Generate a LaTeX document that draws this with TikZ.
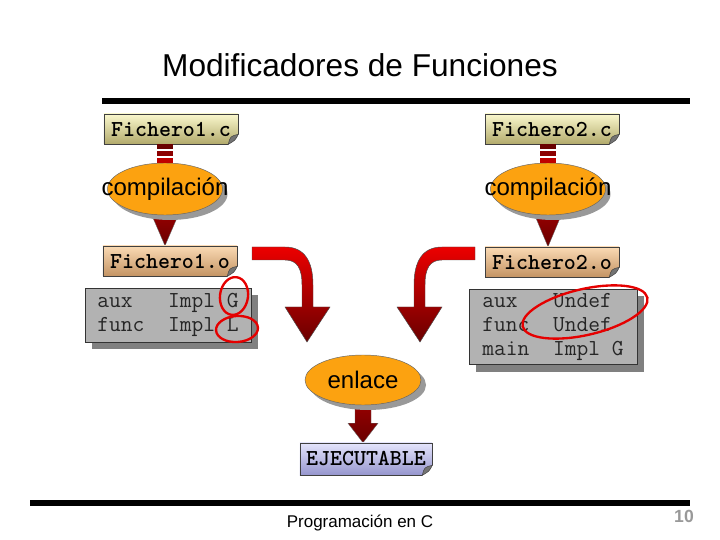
\documentclass[tikz,border=0pt]{standalone}
\usepackage{fontspec}
\setmainfont{Liberation Sans}
\usetikzlibrary{positioning,calc,shadows,shapes.geometric,backgrounds}

\definecolor{caqui1}{RGB}{250,248,205}
\definecolor{caqui2}{RGB}{178,170,108}
\definecolor{tostado1}{RGB}{250,218,180}
\definecolor{tostado2}{RGB}{196,148,100}
\definecolor{lila1}{RGB}{228,228,252}
\definecolor{lila2}{RGB}{150,150,206}
\definecolor{naranja}{RGB}{252,162,16}
\definecolor{rojo}{RGB}{236,0,0}
\definecolor{granate}{RGB}{105,0,0}

\tikzset{
  fichero/.style={draw=black!75, line width=0.5pt, minimum width=4.02cm, minimum height=0.9cm,
    inner sep=0pt, font=\fontsize{19.5}{19.5}\selectfont\ttfamily\bfseries},
  fuente/.style={fichero, top color=caqui1, bottom color=caqui2},
  objeto/.style={fichero, top color=tostado1, bottom color=tostado2},
  final/.style={fichero, top color=lila1, bottom color=lila2, minimum width=3.96cm, minimum height=0.96cm},
  proceso/.style={ellipse, draw=black!60, line width=0.4pt, fill=naranja, inner sep=0pt,
    minimum width=3.45cm, minimum height=1.56cm,
    drop shadow={shadow xshift=0.15cm, shadow yshift=-0.15cm, fill=black!40, opacity=1},
    label={[font=\fontsize{20.5}{20.5}\selectfont]center:#1}},
  simbolos/.style={draw=black!80, line width=0.5pt, fill=black!30, align=left, inner sep=0pt,
    font=\fontsize{19.5}{20.5}\selectfont\ttfamily, text=black!85,
    drop shadow={shadow xshift=0.21cm, shadow yshift=-0.21cm, fill=black!50, opacity=1}},
  marca/.style={draw=red!90!black, line width=2pt},
  flecha/.style={draw=black!70, line width=0.4pt, top color=rojo, bottom color=granate},
  punta/.style={draw=black!60, line width=0.3pt, top color=red!60!black, bottom color=granate}
}

% doblez de la esquina inferior derecha
\newcommand{\doblez}[1]{%
  \fill[white] ($(#1.south east)+(0.6,0.6)$) -- ($(#1.south east)+(-10,0.6)$) -- ($(#1.south east)+(0.6,-10)$) -- cycle;
  \filldraw[fill=black!55, draw=black!75, line width=0.4pt] ($(#1.south east)+(0,-10)$)
    .. controls ($(#1.south east)+(-8,-8)$) .. ($(#1.south east)+(-10,0)$)
    .. controls ($(#1.south east)+(-3,-4)$) .. ($(#1.south east)+(0,-10)$) -- cycle;
}

\begin{document}
\begin{tikzpicture}[x=0.03cm, y=-0.03cm]
  \useasboundingbox (0,0) rectangle (720,540);

  % cabecera
  \node (titulo) at (360,65) {\fontsize{27}{27}\selectfont Modificadores de Funciones};
  \draw[line width=4.5pt] (102,101) -- (690,101);

  % ficheros fuente
  \node[fuente] (f1c) at (171,129) {Fichero1.c};
  \node[fuente] (f2c) at (552,129) {Fichero2.c};
  \doblez{f1c}
  \doblez{f2c}

  % compilacion
  \node[proceso=compilación] (comp1) at (165,189) {};
  \node[proceso=compilación] (comp2) at (548,189) {};

  \foreach \f/\c in {f1c/comp1, f2c/comp2}{
    \foreach \i/\tono in {0/granate, 1/red!55!black, 2/red!75!black}
      \fill[\tono] ($(\f.south -| \c)+(-8,\i*7)$) rectangle ++(16,5);
  }

  % ficheros objeto
  \node[objeto] (f1o) at (170,261) {Fichero1.o};
  \node[objeto] (f2o) at (552,262) {Fichero2.o};
  \doblez{f1o}
  \doblez{f2o}

  \begin{pgfonlayer}{background}
    \foreach \c/\f in {comp1/f1o, comp2/f2o}
      \shade[punta] ($(\c.center)+(-15,22)$) -- ($(\c.center)+(15,22)$) -- (\f.north -| \c) -- cycle;
  \end{pgfonlayer}

  % tablas de simbolos
  \node[simbolos, minimum width=4.98cm, minimum height=1.62cm] (tab1) at (168,315)
    {aux\ \ \ Impl G\\func\ \ Impl L};
  \node[simbolos, minimum width=5.04cm, minimum height=2.25cm] (tab2) at (553,327)
    {aux\ \ \ Undef\ \ \\func\ \ Undef\ \ \\main\ \ Impl G};

  \draw[marca, rotate around={-8:(234,296)}] (234,296) ellipse [x radius=14, y radius=19];
  \draw[marca, rotate around={4:(237,329)}] (237,329) ellipse [x radius=21, y radius=13];
  \draw[marca, rotate around={13:(585,312)}] (585,312) ellipse [x radius=64, y radius=23];

  % flechas curvas hacia el enlace
  \shade[flecha] (252,247) -- (285,247) .. controls (305,247) and (313,262) .. (313,285)
    -- (313,307) -- (330,307) -- (307,342) -- (285,307) -- (302,307) -- (302,285)
    .. controls (302,268) and (297,260) .. (285,260) -- (252,260) -- cycle;
  \begin{scope}[shift={(727,0)}, xscale=-1]
    \shade[flecha] (252,247) -- (285,247) .. controls (305,247) and (313,262) .. (313,285)
      -- (313,307) -- (330,307) -- (307,342) -- (285,307) -- (302,307) -- (302,285)
      .. controls (302,268) and (297,260) .. (285,260) -- (252,260) -- cycle;
  \end{scope}

  % enlace y ejecutable
  \node[proceso=enlace, minimum width=3.48cm, minimum height=1.5cm] (enlace) at (363,380) {};
  \node[final] (ejec) at (366,459) {EJECUTABLE};
  \doblez{ejec}

  \begin{pgfonlayer}{background}
    \shade[punta] ($(enlace.south)+(-8,-4)$) -- ($(enlace.south)+(8,-4)$) -- ($(enlace.south)+(8,18)$)
      -- ($(enlace.south)+(15,18)$) -- (ejec.north -| enlace) -- ($(enlace.south)+(-15,18)$)
      -- ($(enlace.south)+(-8,18)$) -- cycle;
  \end{pgfonlayer}

  % pie
  \draw[line width=4.5pt] (30,503) -- (690,503);
  \node (pie) at (360,523) {\fontsize{14.5}{14.5}\selectfont Programación en C};
  \node[text=black!40] (pagina) at (684,516) {\fontsize{15}{15}\selectfont\bfseries 10};
\end{tikzpicture}
\end{document}
